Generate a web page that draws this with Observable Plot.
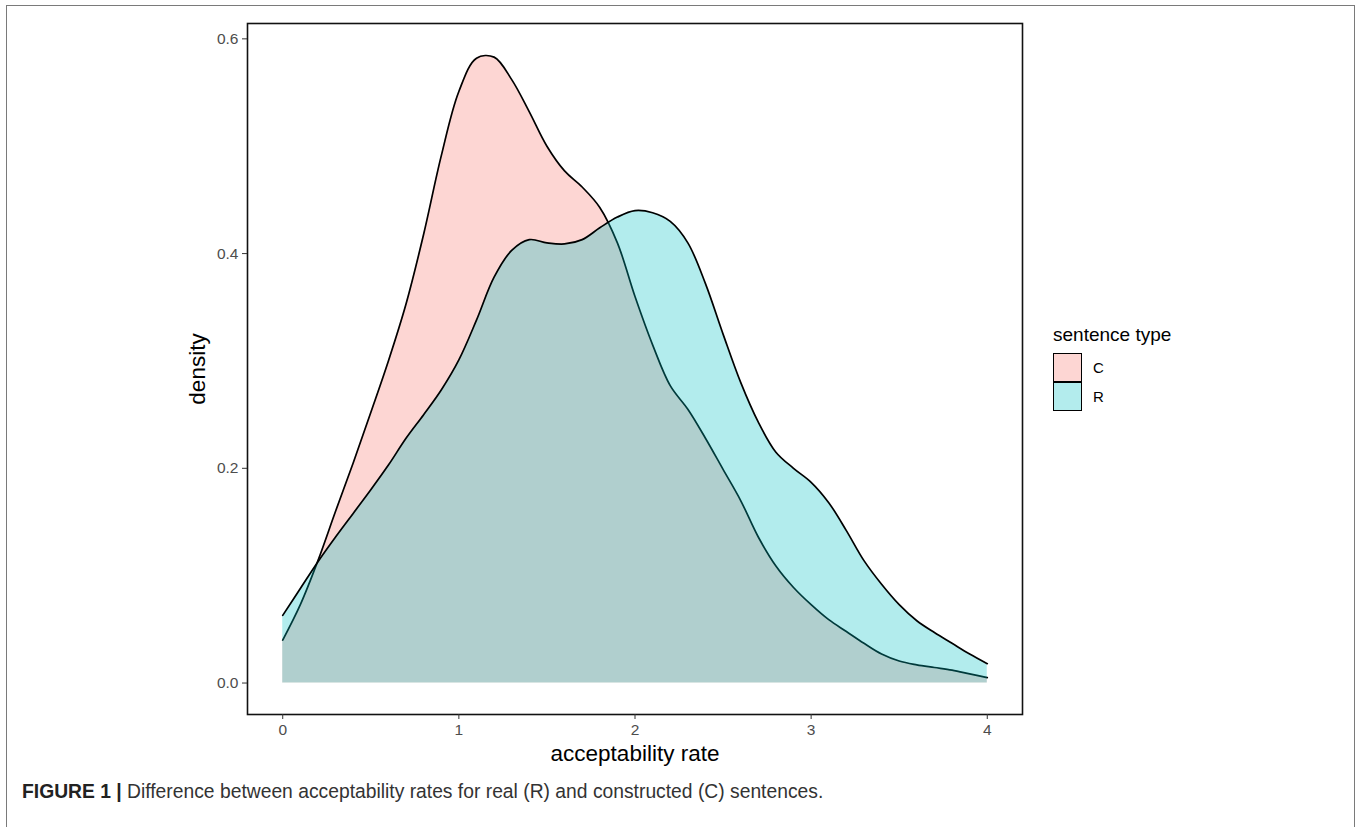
<!DOCTYPE html>
<html>
<head>
<meta charset="utf-8">
<script src="https://cdn.jsdelivr.net/npm/d3@7"></script>
<script src="https://cdn.jsdelivr.net/npm/@observablehq/plot@0.6"></script>
<style>
  body { margin: 0; background: #fff; font-family: "Liberation Sans", Arial, Helvetica, sans-serif; }
  #outer { position: absolute; left: 6px; top: 5px; width: 1349px; height: 900px; border: 1.5px solid #7a7a7a; box-sizing: border-box; }
  #chart { position: absolute; left: 0; top: 0; }
  #legend { position: absolute; left: 1053px; top: 324px; color: #000; }
  #legend .title { font-size: 19px; line-height: 22px; margin-bottom: 7px; }
  #legend .row { display: flex; align-items: center; height: 29px; }
  #legend .key { width: 27px; height: 27px; border: 1.5px solid #000; box-sizing: content-box; margin-right: 11px; }
  #legend .lab { font-size: 15px; }
  #caption { position: absolute; left: 22px; top: 781px; font-size: 19.3px; color: #333; white-space: nowrap; }
  #caption b { color: #222; }
</style>
</head>
<body>
<div id="outer"></div>
<div id="chart"></div>
<div id="legend"></div>
<div id="caption"><b>FIGURE 1 |</b> Difference between acceptability rates for real (R) and constructed (C) sentences.</div>
<script>
// Data
const seriesNames = ["C", "R"];
const seriesColors = ["#F8766D", "#00BFC4"];
const rate = [0.0,0.1,0.2,0.3,0.4,0.5,0.6,0.7,0.8,0.9,1.0,1.1,1.2,1.3,1.4,1.5,1.6,1.7,1.8,1.9,2.0,
              2.1,2.2,2.3,2.4,2.5,2.6,2.7,2.8,2.9,3.0,3.1,3.2,3.3,3.4,3.5,3.6,3.7,3.8,3.9,4.0];
const densityC = [0.040,0.073,0.114,0.160,0.205,0.252,0.300,0.353,0.418,0.491,0.551,0.582,0.583,0.562,0.532,0.500,0.477,0.462,0.443,0.410,0.360,
                  0.315,0.277,0.255,0.228,0.199,0.170,0.136,0.109,0.089,0.073,0.059,0.048,0.037,0.027,0.0205,0.017,0.0145,0.012,0.0085,0.005];
const densityR = [0.063,0.088,0.113,0.136,0.158,0.180,0.203,0.228,0.250,0.273,0.301,0.338,0.378,0.403,0.413,0.410,0.409,0.413,0.424,0.434,0.440,
                  0.438,0.430,0.410,0.372,0.325,0.280,0.243,0.215,0.200,0.187,0.168,0.142,0.114,0.092,0.073,0.058,0.047,0.037,0.027,0.018];
const xTicks = [0, 1, 2, 3, 4];
const yTicks = [0.0, 0.2, 0.4, 0.6];

const rows = [];
rate.forEach((x, i) => rows.push({type: "C", x, y: densityC[i]}));
rate.forEach((x, i) => rows.push({type: "R", x, y: densityR[i]}));

const W = 1360, H = 780;
const chart = Plot.plot({
  width: W,
  height: H,
  marginLeft: 247,
  marginRight: 338,
  marginTop: 23,
  marginBottom: H - 714,
  style: {fontFamily: "Liberation Sans, Arial, Helvetica, sans-serif", fontSize: "15.5px", background: "transparent"},
  x: {domain: [-0.2, 4.2]},
  y: {domain: [-0.0293, 0.6143]},
  color: {domain: seriesNames, range: seriesColors},
  marks: [
    Plot.areaY(rows.filter(d => d.type === "C"), {x: "x", y: "y", fill: "type", fillOpacity: 0.3, curve: "catmull-rom"}),
    Plot.lineY(rows.filter(d => d.type === "C"), {x: "x", y: "y", stroke: "#000", strokeWidth: 1.7, curve: "catmull-rom"}),
    Plot.areaY(rows.filter(d => d.type === "R"), {x: "x", y: "y", fill: "type", fillOpacity: 0.3, curve: "catmull-rom"}),
    Plot.lineY(rows.filter(d => d.type === "R"), {x: "x", y: "y", stroke: "#000", strokeWidth: 1.7, curve: "catmull-rom"}),
    Plot.frame({stroke: "#111", strokeWidth: 1.6}),
    Plot.axisX({ticks: xTicks, tickFormat: d3.format("d"), tickSize: 5, tickPadding: 4, fontSize: 15.5, color: "#4d4d4d", stroke: "#333",
                label: "acceptability rate", labelAnchor: "center", labelArrow: "none", labelOffset: 46}),
    Plot.axisY({ticks: yTicks, tickFormat: d3.format(".1f"), tickSize: 5, tickPadding: 4, fontSize: 15.5, color: "#4d4d4d", stroke: "#333",
                label: "density", labelAnchor: "center", labelArrow: "none", labelOffset: 58})
  ]
});
// text styling
d3.select(chart).selectAll("g[aria-label='x-axis label'] text, g[aria-label='y-axis label'] text")
  .attr("font-size", 22.5).attr("fill", "#000");
document.getElementById("chart").appendChild(chart);

// legend
const legend = document.getElementById("legend");
legend.innerHTML = `<div class="title">sentence type</div>` + seriesNames.map((n, i) => {
  const mix = d3.interpolateRgb("#ffffff", seriesColors[i])(0.3);
  return `<div class="row"><div class="key" style="background:${mix}"></div><span class="lab">${n}</span></div>`;
}).join("");
</script>
</body>
</html>
